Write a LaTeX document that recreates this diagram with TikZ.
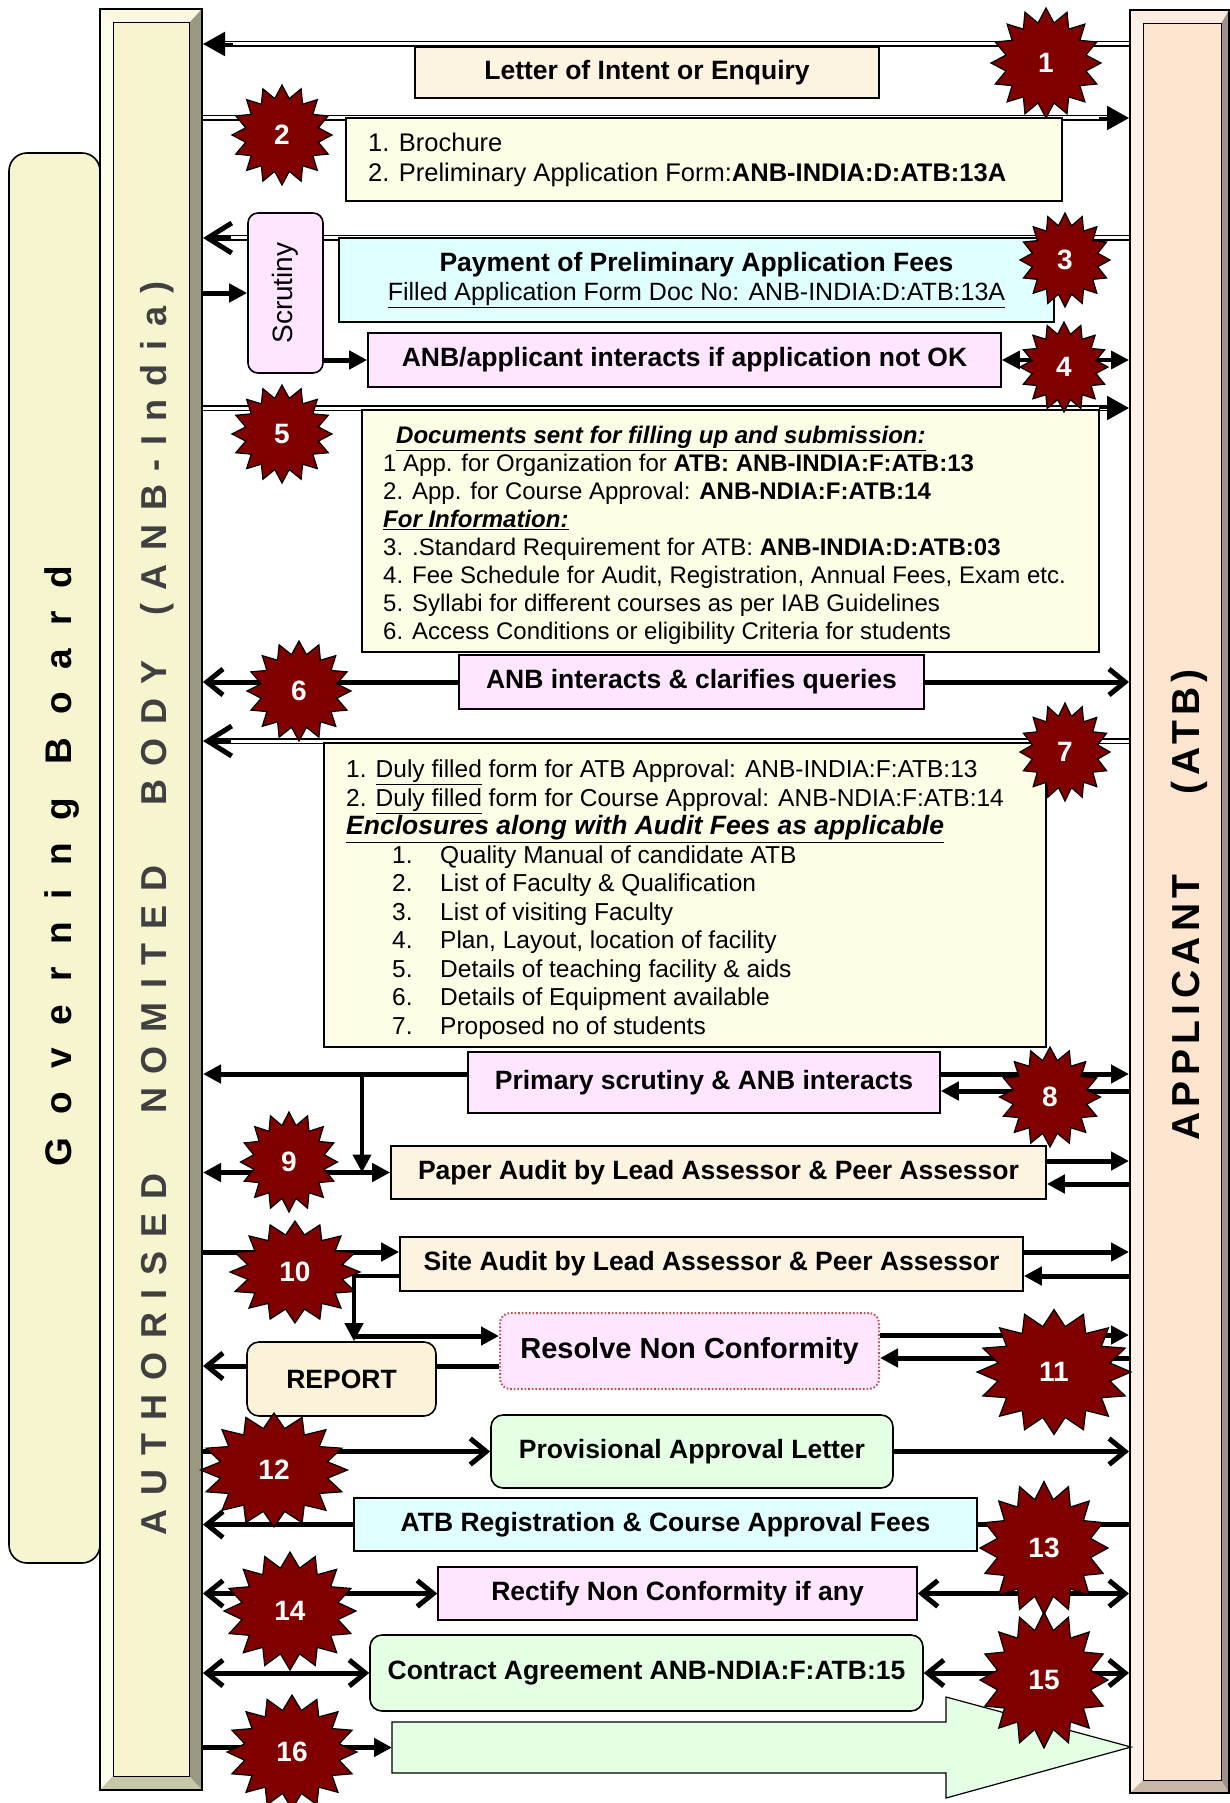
\documentclass[tikz,border=0pt]{standalone}
\usepackage{fontspec}
\setmainfont{Liberation Sans}
\usetikzlibrary{shapes.geometric,arrows.meta,backgrounds}

\definecolor{anbface}{RGB}{247,245,208}
\definecolor{anblite}{RGB}{252,252,235}
\definecolor{anbtop}{RGB}{250,248,224}
\definecolor{anbdark}{RGB}{153,153,128}
\definecolor{anbbot}{RGB}{200,199,168}
\definecolor{atbface}{RGB}{253,229,208}
\definecolor{atblite}{RGB}{254,242,232}
\definecolor{atbtop}{RGB}{254,237,222}
\definecolor{atbdark}{RGB}{156,148,140}
\definecolor{atbbot}{RGB}{200,184,168}
\definecolor{peach}{RGB}{253,243,225}
\definecolor{cream}{RGB}{254,254,230}
\definecolor{pinkish}{RGB}{255,229,255}
\definecolor{aqua}{RGB}{224,255,255}
\definecolor{mint}{RGB}{229,255,229}
\definecolor{reportfill}{RGB}{252,242,217}
\definecolor{starred}{RGB}{128,0,0}
\definecolor{dotred}{RGB}{192,80,77}

\newcommand\burst[6]{%
  \begin{scope}[shift={(#2,#3)}]
    \node[burst, minimum size=#5pt, xscale=#4/#5] (#1) at (0,0) {};
    \node[burstno] (#1n) at (0,0) {#6};
  \end{scope}}

\begin{document}
\begin{tikzpicture}
[
    x=1pt, y=-1pt,
    box/.style={draw=black, line width=1.6pt, inner sep=0pt},
    lbl/.style={font=\bfseries\fontsize{26.5}{30}\selectfont},
    txt/.style={font=\fontsize{24}{28}\selectfont, inner sep=0pt},
    dline/.style={double, line width=1.6pt, double distance=3pt},
    stub/.style={line width=2pt},
    thk/.style={line width=5pt},
    tri/.style={-{Triangle[length=18pt,width=18pt]}},
    tritri/.style={{Triangle[length=18pt,width=18pt]}-{Triangle[length=18pt,width=18pt]}},
    bigtri/.style={-{Triangle[length=22pt,width=24pt]}},
    barb/.style={-{Straight Barb[length=16pt,width=26pt]}},
    barbbarb/.style={{Straight Barb[length=16pt,width=26pt]}-{Straight Barb[length=16pt,width=26pt]}},
    bigbarb/.style={-{Straight Barb[length=24pt,width=30pt]}},
    burst/.style={star, star points=16, star point ratio=1.35, fill=starred, draw=black, line width=1.2pt, inner sep=0pt},
    burstno/.style={text=white, font=\bfseries\fontsize{28}{28}\selectfont, inner sep=0pt},
]
\useasboundingbox (0,0) rectangle (1230,1803);

\node[box, fill=anbface, rounded corners=18pt, minimum width=91, minimum height=1410] (gb) at (54.5,858) {};
\node[rotate=90, font=\bfseries\fontsize{37}{37}\selectfont\addfontfeature{LetterSpace=62}] (gbt) at (62,866) {Governing Board};

\fill[anbface] (100,9) rectangle (202,1790);
\fill[anblite] (100,9) -- (113,23) -- (113,1776) -- (100,1790) -- cycle;
\fill[anbtop] (100,9) -- (202,9) -- (189,23) -- (113,23) -- cycle;
\fill[anbdark] (202,9) -- (189,23) -- (189,1776) -- (202,1790) -- cycle;
\fill[anbbot] (100,1790) -- (113,1776) -- (189,1776) -- (202,1790) -- cycle;
\draw[line width=1pt] (113,23) rectangle (189,1776);
\node[box, line width=2pt, minimum width=102, minimum height=1781] (anb) at (151,899.5) {};
\node[rotate=90, text=black!75, font=\bfseries\fontsize{36}{36}\selectfont\addfontfeature{LetterSpace=38}] (anbt) at (157,908) {AUTHORISED\hspace{60pt}NOMITED\hspace{60pt}BODY\hspace{45pt}(ANB-India)};

\fill[atbface] (1130,10) rectangle (1229,1793);
\fill[atblite] (1130,10) -- (1143,24) -- (1143,1780) -- (1130,1793) -- cycle;
\fill[atbtop] (1130,10) -- (1229,10) -- (1221,24) -- (1143,24) -- cycle;
\fill[atbdark] (1229,10) -- (1221,24) -- (1221,1780) -- (1229,1793) -- cycle;
\fill[atbbot] (1130,1793) -- (1143,1780) -- (1221,1780) -- (1229,1793) -- cycle;
\draw[line width=1pt] (1143,24) rectangle (1221,1780);
\node[box, line width=2pt, minimum width=99, minimum height=1783] (atb) at (1179.5,901.5) {};
\node[rotate=90, font=\bfseries\fontsize{39}{39}\selectfont\addfontfeature{LetterSpace=14}] (atbt) at (1189,905) {APPLICANT\hspace{80pt}(ATB)};

\node[box, fill=peach, minimum width=464, minimum height=51, lbl] (b1) at (647,72.5) {Letter of Intent or Enquiry};
\node[box, fill=cream, minimum width=716, minimum height=83] (b2) at (704,159.5) {};
\node[txt, font=\fontsize{25.5}{30}\selectfont, anchor=north west, align=left] (b2t) at (368,133) {1. Brochure\\2. Preliminary Application Form:\textbf{ANB-INDIA:D:ATB:13A}};
\node[box, fill=pinkish, rounded corners=10pt, minimum width=75, minimum height=160, font=\fontsize{28}{28}\selectfont] (scr) at (285.5,293) {\rotatebox{90}{Scrutiny}};
\node[box, fill=aqua, minimum width=715, minimum height=84, align=center, font=\fontsize{25}{29}\selectfont] (b3) at (696.5,280) {{\bfseries\fontsize{26.5}{29}\selectfont Payment of Preliminary Application Fees}\\\underline{Filled Application Form Doc No: ANB-INDIA:D:ATB:13A}};
\node[box, fill=pinkish, minimum width=633, minimum height=54, lbl] (b4) at (684.5,360) {ANB/applicant interacts if application not OK};
\node[box, fill=cream, minimum width=737, minimum height=242] (b5) at (730.5,531) {};
\node[txt, anchor=north west, align=left] (b5t) at (383,426) {\hspace*{13pt}{\bfseries\itshape\underline{Documents sent for filling up and submission:}}\\
1 App. for Organization for \textbf{ATB: ANB-INDIA:F:ATB:13}\\
2. App. for Course Approval: \textbf{ANB-NDIA:F:ATB:14}\\
{\bfseries\itshape\underline{For Information:}}\\
3. .Standard Requirement for ATB: \textbf{ANB-INDIA:D:ATB:03}\\
4. Fee Schedule for Audit, Registration, Annual Fees, Exam etc.\\
5. Syllabi for different courses as per IAB Guidelines\\
6. Access Conditions or eligibility Criteria for students};
\node[box, fill=pinkish, minimum width=465, minimum height=54, lbl] (b6) at (691.5,682) {ANB interacts \& clarifies queries};
\node[box, fill=cream, minimum width=722, minimum height=304] (b7) at (685,895) {};
\node[txt, font=\fontsize{24.5}{28.5}\selectfont, anchor=north west, align=left] (b7t) at (346,760) {1. \underline{Duly filled} form for ATB Approval: ANB-INDIA:F:ATB:13\\
2. \underline{Duly filled} form for Course Approval: ANB-NDIA:F:ATB:14\\
{\bfseries\itshape\fontsize{26.5}{28.5}\selectfont\underline{Enclosures along with Audit Fees as applicable}}\\
\hspace*{46pt}\makebox[48pt][l]{1.}Quality Manual of candidate ATB\\
\hspace*{46pt}\makebox[48pt][l]{2.}List of Faculty \& Qualification\\
\hspace*{46pt}\makebox[48pt][l]{3.}List of visiting Faculty\\
\hspace*{46pt}\makebox[48pt][l]{4.}Plan, Layout, location of facility\\
\hspace*{46pt}\makebox[48pt][l]{5.}Details of teaching facility \& aids\\
\hspace*{46pt}\makebox[48pt][l]{6.}Details of Equipment available\\
\hspace*{46pt}\makebox[48pt][l]{7.}Proposed no of students};
\node[box, fill=pinkish, minimum width=472, minimum height=61, lbl] (b8) at (704,1082.5) {Primary scrutiny \& ANB interacts};
\node[box, fill=peach, minimum width=655, minimum height=53, lbl] (b9) at (718.5,1172.5) {Paper Audit by Lead Assessor \& Peer Assessor};
\node[box, fill=peach, minimum width=623, minimum height=54, lbl] (b10) at (711.5,1264) {Site Audit by Lead Assessor \& Peer Assessor};
\node[box, fill=reportfill, rounded corners=12pt, minimum width=189, minimum height=74, lbl] (rep) at (341.5,1379) {REPORT};
\node[box, draw=dotred, dotted, line width=2pt, fill=pinkish, rounded corners=10pt, minimum width=379, minimum height=76, font=\bfseries\fontsize{29}{30}\selectfont] (res) at (689.5,1351) {Resolve Non Conformity};
\node[box, fill=mint, rounded corners=12pt, minimum width=402, minimum height=73, lbl] (b12) at (692,1451.5) {Provisional Approval Letter};
\node[box, fill=aqua, minimum width=623, minimum height=53, lbl] (b13) at (665.5,1524.5) {ATB Registration \& Course Approval Fees};
\node[box, fill=pinkish, minimum width=479, minimum height=53, lbl] (b14) at (677.5,1593.5) {Rectify Non Conformity if any};
\node[box, fill=mint, rounded corners=12pt, minimum width=553, minimum height=76, lbl] (b15) at (646.5,1673) {Contract Agreement ANB-NDIA:F:ATB:15};
\draw[fill=mint, line width=1.2pt] (392,1722) -- (946,1722) -- (946,1697) -- (1131,1747) -- (946,1798) -- (946,1773) -- (392,1773) -- cycle;
\coordinate (big) at (392,1747.5);

\coordinate (r1a) at (anb.east |- 0,44);
\coordinate (r1b) at (atb.west |- 0,44);
\coordinate (r2a) at (anb.east |- 0,118);
\coordinate (r2b) at (atb.west |- 0,118);
\coordinate (r3a) at (anb.east |- 0,238);
\coordinate (r3b) at (atb.west |- 0,238);
\coordinate (r5a) at (anb.east |- 0,408);
\coordinate (r5b) at (atb.west |- 0,408);
\coordinate (r7a) at (anb.east |- 0,741);
\coordinate (r7b) at (atb.west |- 0,741);
\coordinate (j8) at (362,1074);
\coordinate (j10) at (354,1276);
\coordinate (j11) at (354,1336);

\begin{scope}[on background layer]
\draw[dline, shorten >=14pt] (r1b) -- (r1a);
\draw[stub, bigtri] ([xshift=30pt]r1a) -- (r1a);
\draw[dline, shorten >=14pt] (r2a) -- (r2b);
\draw[stub, bigtri] ([xshift=-30pt]r2b) -- (r2b);
\draw[dline, shorten >=10pt] (r3b) -- (r3a);
\draw[thk, bigbarb] ([xshift=28pt]r3a) -- (r3a);
\draw[thk, tri] (anb.east |- scr.west) -- (scr.west);
\draw[thk, tri] (scr.east |- b4.west) -- (b4.west);
\draw[line width=3.5pt, tritri] (b4.east) -- (atb.west |- b4.east);
\draw[dline, shorten >=14pt] (r5a) -- (r5b);
\draw[stub, bigtri] ([xshift=-30pt]r5b) -- (r5b);
\draw[thk, barbbarb] (anb.east |- b6.west) -- (atb.west |- b6.east);
\draw[dline, shorten >=10pt] (r7b) -- (r7a);
\draw[thk, bigbarb] ([xshift=28pt]r7a) -- (r7a);
\draw[thk, tri] (b8.west |- 0,1074) -- (anb.east |- 0,1074);
\draw[thk, tri] (b8.east |- 0,1074) -- (atb.west |- 0,1074);
\draw[thk, tri] (atb.west |- 0,1091) -- (b8.east |- 0,1091);
\draw[line width=4pt, tri] (j8) -- (j8 |- b9.west);
\draw[thk, tritri] (anb.east |- b9.west) -- (b9.west);
\draw[thk, tri] (b9.east |- 0,1161) -- (atb.west |- 0,1161);
\draw[thk, tri] (atb.west |- 0,1184) -- (b9.east |- 0,1184);
\draw[thk, tri] (anb.east |- 0,1252) -- (b10.west |- 0,1252);
\draw[thk, tri] (b10.east |- 0,1252) -- (atb.west |- 0,1252);
\draw[thk, tri] (atb.west |- 0,1276) -- (b10.east |- 0,1276);
\draw[line width=4pt, tri] (b10.west |- j10) -- (j10) -- (j10 |- rep.north);
\draw[thk, tri] (j11) -- (j11 -| res.west);
\draw[thk, tri] (res.east |- 0,1335) -- (atb.west |- 0,1335);
\draw[thk, tri] (atb.west |- 0,1358) -- (res.east |- 0,1358);
\draw[thk] (res.west |- 0,1366) -- (rep.east |- 0,1366);
\draw[thk, barb] (rep.west |- 0,1366) -- (anb.east |- 0,1366);
\draw[thk, barb] (anb.east |- b12.west) -- (b12.west);
\draw[thk, barb] (b12.east) -- (atb.west |- b12.east);
\draw[thk, barb] (atb.west |- b13.east) -- (anb.east |- b13.west);
\draw[thk, barbbarb] (anb.east |- b14.west) -- (b14.west);
\draw[thk, barbbarb] (b14.east) -- (atb.west |- b14.east);
\draw[thk, barbbarb] (anb.east |- b15.west) -- (b15.west);
\draw[thk, barbbarb] (b15.east) -- (atb.west |- b15.east);
\draw[thk, tri] (anb.east |- big) -- (big);
\end{scope}

\burst{s1}{1046}{63}{110}{110}{1}
\burst{s2}{282}{135}{100}{100}{2}
\burst{s3}{1065}{260}{90}{94}{3}
\burst{s4}{1064}{367}{88}{90}{4}
\burst{s5}{282}{434}{100}{98}{5}
\burst{s6}{299}{691}{104}{100}{6}
\burst{s7}{1065}{752}{90}{98}{7}
\burst{s8}{1050}{1097}{101}{100}{8}
\burst{s9}{289}{1162}{97}{100}{9}
\burst{s10}{295}{1272}{130}{102}{10}
\burst{s11}{1054}{1372}{154}{125}{11}
\burst{s12}{274}{1470}{147}{114}{12}
\burst{s13}{1044}{1548}{128}{133}{13}
\burst{s14}{290}{1611}{132}{118}{14}
\burst{s15}{1044}{1680}{128}{136}{15}
\burst{s16}{292}{1752}{130}{114}{16}
\end{tikzpicture}
\end{document}
